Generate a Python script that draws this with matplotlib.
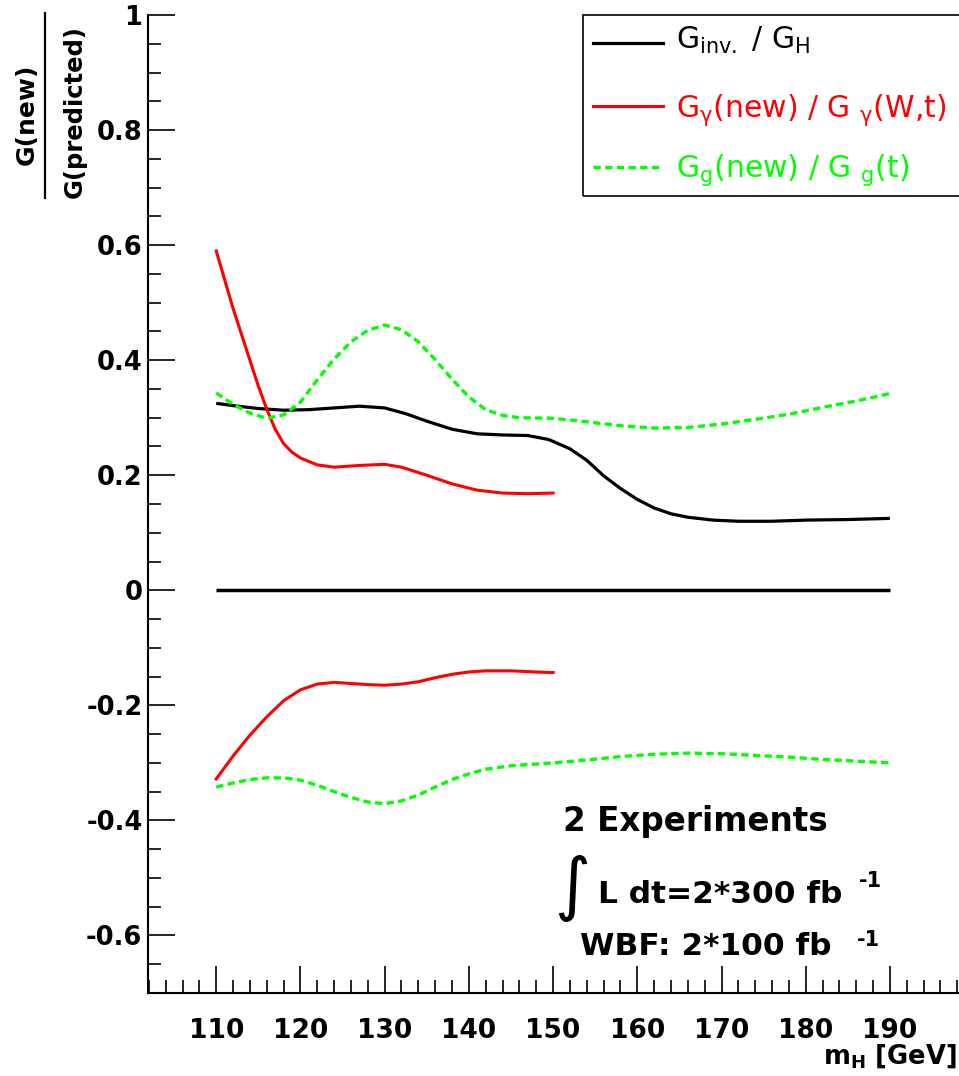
import matplotlib
matplotlib.use("Agg")
from matplotlib import pyplot as plt
from matplotlib.lines import Line2D
from matplotlib.patches import Rectangle
from matplotlib.ticker import MultipleLocator, FixedLocator, FuncFormatter

# --- data ------------------------------------------------------------------
mh_inv = [110, 112, 115, 118, 121, 124, 127, 130, 132.5, 135, 138, 141, 144,
          147, 149.5, 152, 154, 156, 158, 160, 162, 164, 166, 169, 172, 176,
          180, 185, 190]
inv_ratio = [0.325, 0.321, 0.316, 0.313, 0.314, 0.317, 0.320, 0.317, 0.307,
             0.294, 0.280, 0.272, 0.270, 0.269, 0.262, 0.246, 0.226, 0.199,
             0.177, 0.158, 0.143, 0.133, 0.127, 0.122, 0.120, 0.120, 0.122,
             0.123, 0.125]

mh_gam_up = [110, 111, 112, 113, 114, 115, 116, 117, 118, 119, 120, 122, 124,
             127, 130, 132, 135, 138, 141, 144, 147, 150]
gam_up = [0.590, 0.540, 0.490, 0.445, 0.400, 0.355, 0.315, 0.280, 0.255,
          0.240, 0.230, 0.218, 0.214, 0.217, 0.219, 0.214, 0.200, 0.185,
          0.174, 0.169, 0.168, 0.169]

mh_gam_lo = [110, 112, 114, 116, 118, 120, 122, 124, 126, 128, 130, 132, 134,
             136, 138, 140, 142, 145, 148, 150]
gam_lo = [-0.328, -0.288, -0.252, -0.220, -0.192, -0.173, -0.163, -0.160,
          -0.162, -0.164, -0.165, -0.163, -0.159, -0.152, -0.146, -0.142,
          -0.140, -0.140, -0.142, -0.143]

mh_glu_up = [110, 112, 114, 116, 118, 120, 122, 124, 126, 128, 130, 132, 134,
             136, 138, 140, 142, 144, 146, 150, 154, 158, 162, 166, 170, 174,
             178, 182, 186, 190]
glu_up = [0.343, 0.323, 0.308, 0.299, 0.305, 0.327, 0.366, 0.402, 0.432,
          0.452, 0.461, 0.453, 0.432, 0.401, 0.367, 0.336, 0.314, 0.304,
          0.300, 0.299, 0.293, 0.286, 0.282, 0.283, 0.289, 0.297, 0.306,
          0.318, 0.329, 0.342]

mh_glu_lo = [110, 112, 114, 116, 118, 120, 122, 124, 126, 128, 130, 132, 134,
             136, 138, 140, 142, 145, 150, 154, 158, 162, 166, 170, 174, 178,
             182, 186, 190]
glu_lo = [-0.342, -0.335, -0.329, -0.326, -0.326, -0.330, -0.339, -0.350,
          -0.360, -0.368, -0.371, -0.366, -0.356, -0.342, -0.329, -0.319,
          -0.311, -0.305, -0.300, -0.295, -0.289, -0.285, -0.283, -0.284,
          -0.287, -0.290, -0.294, -0.297, -0.300]

mh_zero = [110, 190]
zero = [0, 0]

legend_labels = [r"G$_{\mathregular{inv.}}$ / G$_{\mathregular{H}}$",
                 r"G$_{\mathregular{γ}}$(new) / G $_{\mathregular{γ}}$(W,t)",
                 r"G$_{\mathregular{g}}$(new) / G $_{\mathregular{g}}$(t)"]

W, H = 959, 1076
RED = "#ff0000"
GREEN = "#00ff00"


def fx(x):
    return x / W


def fy(y):
    return 1 - y / H


plt.rcParams["font.family"] = ["DejaVu Sans"]
plt.rcParams["axes.unicode_minus"] = False

fig = plt.figure(figsize=(W / 100, H / 100), dpi=100)
ax = fig.add_axes([fx(148), fy(993), fx(959) - fx(148), fy(15) - fy(993)])

dash = (0, (2.2, 1.3))
ax.plot(mh_inv, inv_ratio, color="black", lw=2.3, solid_capstyle="butt")
ax.plot(mh_zero, zero, color="black", lw=2.5, solid_capstyle="butt")
ax.plot(mh_gam_up, gam_up, color=RED, lw=2.2)
ax.plot(mh_gam_lo, gam_lo, color=RED, lw=2.2)
ax.plot(mh_glu_up, glu_up, color=GREEN, lw=2.4, linestyle=dash)
ax.plot(mh_glu_lo, glu_lo, color=GREEN, lw=2.4, linestyle=dash)

ax.set_xlim(101.9, 198.2)
ax.set_ylim(-0.7, 1.0)
for s in ("top", "right"):
    ax.spines[s].set_visible(False)
for s in ("left", "bottom"):
    ax.spines[s].set_linewidth(1.5)

ax.xaxis.set_major_locator(FixedLocator(range(110, 191, 10)))
ax.xaxis.set_minor_locator(MultipleLocator(2))
ax.yaxis.set_major_locator(MultipleLocator(0.2))
ax.yaxis.set_minor_locator(MultipleLocator(0.05))
ax.yaxis.set_major_formatter(FuncFormatter(lambda v, p: "%g" % round(v, 2)))
ax.tick_params(which="both", direction="in", top=False, right=False,
               width=1.2, color="black")
ax.tick_params(which="major", length=19.5)
ax.tick_params(which="minor", length=9.5)
ax.tick_params(axis="x", which="major", pad=18, labelsize=19)
ax.tick_params(axis="y", which="major", pad=4, labelsize=18.5)
for lab in ax.get_xticklabels() + ax.get_yticklabels():
    lab.set_fontweight("bold")

# legend box
fig.add_artist(Rectangle((fx(583), fy(196)), fx(959) - fx(583) + 0.01,
                         fy(15) - fy(196), transform=fig.transFigure,
                         fill=False, edgecolor="black", lw=1.2))
leg_style = [dict(color="black", lw=2.3, linestyle="-"),
             dict(color=RED, lw=2.2, linestyle="-"),
             dict(color=GREEN, lw=2.4, linestyle=dash)]
leg_line_y = [43, 106, 167]
leg_text_y = [49, 117, 177]
for lab, st, ly, ty in zip(legend_labels, leg_style, leg_line_y, leg_text_y):
    fig.add_artist(Line2D([fx(593), fx(663)], [fy(ly), fy(ly)],
                          transform=fig.transFigure, **st))
    fig.text(fx(676), fy(ty), lab, color=st["color"], fontsize=21.5,
             va="baseline", ha="left")

# y-axis label as a fraction
fig.text(fx(27), fy(114), "G(new)", rotation=90, fontsize=18,
         fontweight="bold", ha="center", va="center")
fig.text(fx(75), fy(112), "G(predicted)", rotation=90, fontsize=17.5,
         fontweight="bold", ha="center", va="center")
fig.add_artist(Line2D([fx(45), fx(45)], [fy(13), fy(198)],
                      transform=fig.transFigure, color="black", lw=1.6))

# x-axis label
fig.text(fx(957), fy(1064), r"m$_{\mathregular{H}}$ [GeV]", fontsize=18.5,
         fontweight="bold", ha="right", va="baseline")

# luminosity annotation
fig.text(fx(563), fy(831), "2 Experiments", fontsize=23.5, fontweight="bold",
         ha="left", va="baseline")
fig.text(fx(572), fy(888), "\u222b", fontsize=50, ha="center", va="center")
fig.text(fx(598), fy(903), "L dt=2*300 fb", fontsize=22.5, fontweight="bold",
         ha="left", va="baseline")
fig.text(fx(859), fy(887), "-1", fontsize=15, fontweight="bold",
         ha="left", va="baseline")
fig.text(fx(580), fy(955), "WBF: 2*100 fb", fontsize=22.5, fontweight="bold",
         ha="left", va="baseline")
fig.text(fx(857), fy(946), "-1", fontsize=15, fontweight="bold",
         ha="left", va="baseline")

fig.savefig("out.png", dpi=100)
